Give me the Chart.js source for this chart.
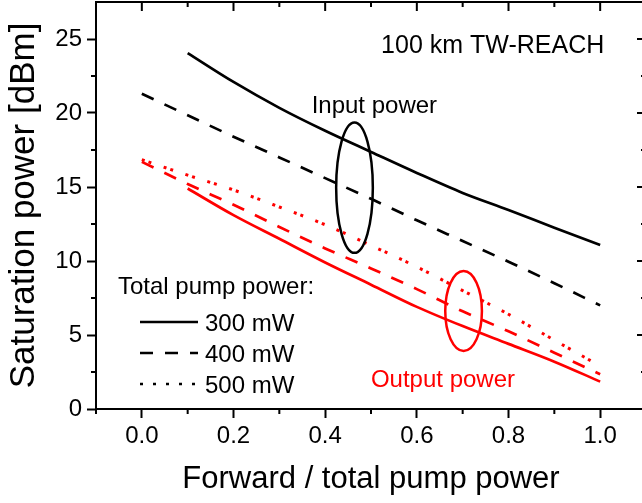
<!DOCTYPE html>
<html><head><meta charset="utf-8">
<script src="https://cdn.jsdelivr.net/npm/chart.js@4"></script>
<style>html,body{margin:0;padding:0;overflow:hidden;background:#fff}#wrap{width:660px;height:503px}</style>
</head><body><div id="wrap"><canvas id="c" width="660" height="503"></canvas></div>
<script>
// ---------------- data ----------------
const pumpRatio = [0.0, 0.1, 0.2, 0.3, 0.4, 0.5, 0.6, 0.7, 0.8, 0.9, 1.0];
const inputPower300 = [null, 24.05, 22.1, 20.35, 18.8, 17.37, 15.95, 14.6, 13.45, 12.25, 11.08];
const inputPower400 = [21.3, 19.85, 18.4, 17.0, 15.6, 14.2, 12.75, 11.35, 9.95, 8.5, 7.0];
const outputPower300 = [null, 14.9, 13.1, 11.5, 9.9, 8.4, 6.9, 5.6, 4.4, 3.2, 1.85];
const outputPower400 = [16.7, 15.2, 13.8, 12.3, 10.85, 9.5, 8.1, 6.6, 5.25, 3.8, 2.35];
const outputPower500 = [16.85, 15.8, 14.8, 13.65, 12.45, 11.05, 9.6, 8.0, 6.4, 4.65, 2.9];

const xTicks = [0.0, 0.2, 0.4, 0.6, 0.8, 1.0];
const xTickLabels = ['0.0', '0.2', '0.4', '0.6', '0.8', '1.0'];
const xMinorTicks = [-0.1, 0.1, 0.3, 0.5, 0.7, 0.9, 1.1];
const yTicks = [0, 5, 10, 15, 20, 25];
const yTickLabels = ['0', '5', '10', '15', '20', '25'];
const yMinorTicks = [2.5, 7.5, 12.5, 17.5, 22.5];

const xTitle = 'Forward / total pump power';
const yTitle = 'Saturation power [dBm]';
const legendTitle = 'Total pump power:';
const legendLabels = ['300 mW', '400 mW', '500 mW'];
const annotationTexts = ['100 km TW-REACH', 'Input power', 'Output power'];

const ellipseCentersX = [0.464, 0.702];
const ellipseCentersY = [14.95, 6.62];
const ellipseHalfWidths = [0.040, 0.040];
const ellipseHalfHeights = [4.4, 2.7];

// ---------------- styles / layout ----------------
const FONT = '"Liberation Sans", Arial, sans-serif';
const BLACK = '#000000', RED = '#ff0000';
const LW = 2.7;
const DASH = [13, 12], DOT = [3, 4, 3, 13], LEGEND_DOT = [3, 10];

const annotationStyle = [
  {x: 0.522, y: 24.03, align: 'left', color: BLACK, size: 25},
  {x: 0.3705, y: 19.98, align: 'left', color: BLACK, size: 24},
  {x: 0.657, y: 1.47, align: 'center', color: RED, size: 24}
];
const ellipseColors = [BLACK, RED];
const legendDashes = [[], DASH, LEGEND_DOT];

function pts(arr) { return pumpRatio.map((x, i) => ({x: x, y: arr[i]})); }

const datasets = [
  {label: 'in300', data: pts(inputPower300), borderColor: BLACK, borderDash: []},
  {label: 'in400', data: pts(inputPower400), borderColor: BLACK, borderDash: DASH},
  {label: 'out300', data: pts(outputPower300), borderColor: RED, borderDash: []},
  {label: 'out400', data: pts(outputPower400), borderColor: RED, borderDash: DASH},
  {label: 'out500', data: pts(outputPower500), borderColor: RED, borderDash: DOT, borderWidth: 3}
].map(d => Object.assign({borderWidth: LW, pointRadius: 0, fill: false, cubicInterpolationMode: 'monotone', spanGaps: false, borderCapStyle: 'butt'}, d));

const decor = {
  id: 'decor',
  afterDatasetsDraw(chart) {
    const ctx = chart.ctx, xs = chart.scales.x, ys = chart.scales.y, a = chart.chartArea;
    ctx.save();
    ctx.lineWidth = 2.5;
    for (let i = 0; i < ellipseCentersX.length; i++) {
      const cx = xs.getPixelForValue(ellipseCentersX[i]);
      const cy = ys.getPixelForValue(ellipseCentersY[i]);
      const rx = Math.abs(xs.getPixelForValue(ellipseCentersX[i] + ellipseHalfWidths[i]) - cx);
      const ry = Math.abs(ys.getPixelForValue(ellipseCentersY[i] + ellipseHalfHeights[i]) - cy);
      ctx.strokeStyle = ellipseColors[i];
      ctx.beginPath(); ctx.ellipse(cx, cy, rx, ry, 0, 0, Math.PI * 2); ctx.stroke();
    }
    ctx.textBaseline = 'alphabetic';
    annotationTexts.forEach((t, i) => {
      const s = annotationStyle[i];
      ctx.font = s.size + 'px ' + FONT;
      ctx.fillStyle = s.color; ctx.textAlign = s.align;
      ctx.fillText(t, xs.getPixelForValue(s.x), ys.getPixelForValue(s.y));
    });
    ctx.font = '24px ' + FONT;
    ctx.fillStyle = BLACK; ctx.textAlign = 'left';
    ctx.fillText(legendTitle, a.left + 22, 294);
    legendLabels.forEach((t, i) => {
      const ly = 322 + i * 31;
      ctx.strokeStyle = BLACK; ctx.lineWidth = LW; ctx.setLineDash(legendDashes[i]);
      ctx.beginPath(); ctx.moveTo(a.left + 44, ly); ctx.lineTo(a.left + 102, ly); ctx.stroke();
      ctx.setLineDash([]);
      ctx.fillText(t, a.left + 109, ly + 9);
    });
    ctx.restore();
  },
  afterDraw(chart) {
    const ctx = chart.ctx, xs = chart.scales.x, ys = chart.scales.y, a = chart.chartArea;
    ctx.save();
    ctx.strokeStyle = BLACK; ctx.lineWidth = 2;
    ctx.beginPath();
    ctx.moveTo(a.left, a.top); ctx.lineTo(a.right, a.top); ctx.lineTo(a.right, a.bottom);
    ctx.stroke();
    ctx.beginPath();
    xMinorTicks.forEach(v => { const p = xs.getPixelForValue(v); ctx.moveTo(p, a.bottom); ctx.lineTo(p, a.bottom + 5); ctx.moveTo(p, a.top); ctx.lineTo(p, a.top + 5); });
    xTicks.forEach(v => { const p = xs.getPixelForValue(v); ctx.moveTo(p, a.top); ctx.lineTo(p, a.top + 9); });
    yMinorTicks.forEach(v => { const p = ys.getPixelForValue(v); ctx.moveTo(a.left - 5, p); ctx.lineTo(a.left, p); ctx.moveTo(a.right - 5, p); ctx.lineTo(a.right, p); });
    yTicks.forEach(v => { const p = ys.getPixelForValue(v); ctx.moveTo(a.right - 9, p); ctx.lineTo(a.right, p); });
    ctx.stroke();
    ctx.restore();
  }
};

new Chart(document.getElementById('c'), {
  type: 'line',
  data: {datasets: datasets},
  plugins: [decor],
  options: {
    responsive: false, animation: false, devicePixelRatio: 1,
    layout: {padding: {top: 2, right: 14, left: 0, bottom: 0}},
    plugins: {legend: {display: false}, tooltip: {enabled: false}},
    scales: {
      x: {
        type: 'linear', min: -0.1, max: 1.1,
        afterBuildTicks: s => { s.ticks = xTicks.map(v => ({value: v})); },
        afterFit: s => { s.height = 94; s.paddingLeft = 0; s.paddingRight = 0; },
        ticks: {callback: (v, i) => xTickLabels[i], autoSkip: false, maxRotation: 0, color: BLACK, padding: 4, font: {family: FONT, size: 24}},
        grid: {drawOnChartArea: false, drawTicks: true, tickLength: 9, tickWidth: 2, tickColor: BLACK},
        border: {display: true, color: BLACK, width: 2},
        title: {display: true, text: xTitle, color: BLACK, font: {family: FONT, size: 31}, padding: {top: 0, bottom: 5}}
      },
      y: {
        type: 'linear', min: 0, max: 27.5,
        afterBuildTicks: s => { s.ticks = yTicks.map(v => ({value: v})); },
        afterFit: s => { s.width = 96; s.paddingTop = 0; s.paddingBottom = 0; },
        ticks: {callback: (v, i) => yTickLabels[i], autoSkip: false, color: BLACK, padding: 5, font: {family: FONT, size: 24}},
        grid: {drawOnChartArea: false, drawTicks: true, tickLength: 9, tickWidth: 2, tickColor: BLACK},
        border: {display: true, color: BLACK, width: 2},
        title: {display: true, text: yTitle, color: BLACK, font: {family: FONT, size: 35}, padding: {top: 3, bottom: 0}}
      }
    }
  }
});
</script></body></html>
